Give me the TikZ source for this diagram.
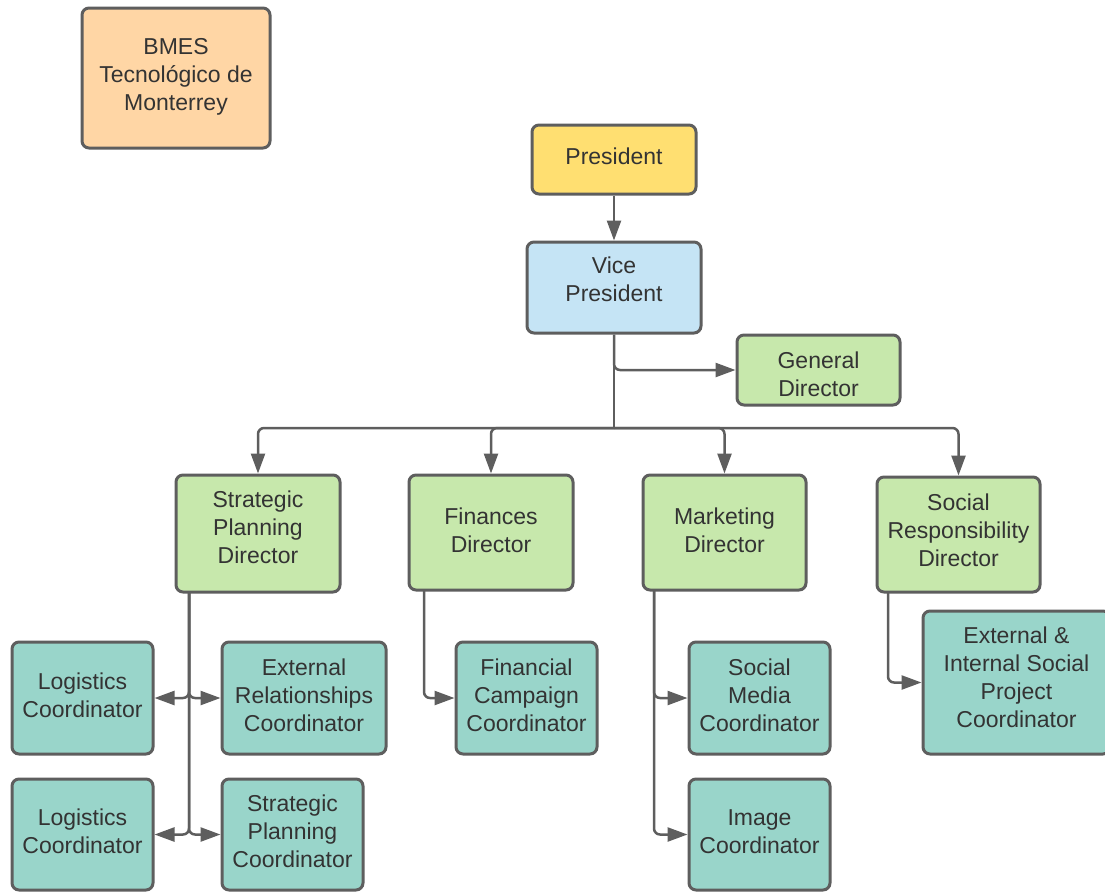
\documentclass[tikz,border=0pt]{standalone}
\usepackage{fontspec}
\setmainfont{Liberation Sans}
\usetikzlibrary{arrows.meta}
\definecolor{peach}{HTML}{FFD6A5}
\definecolor{yel}{HTML}{FFDF71}
\definecolor{blu}{HTML}{C5E4F5}
\definecolor{grn}{HTML}{C7E8AC}
\definecolor{tea}{HTML}{99D5CA}
\definecolor{edge}{HTML}{5E5E5E}
\definecolor{txt}{HTML}{333333}
\newcommand{\bxt}[2][-6pt]{\raisebox{#1}[0pt][0pt]{\begin{tabular}{@{}c@{}}#2\end{tabular}}}
\tikzset{
  box/.style={draw=edge, line width=3pt, rounded corners=7pt, align=center, text=txt,
    font=\fontsize{23}{28}\selectfont, inner sep=0pt},
  conn/.style={draw=edge, line width=2.5pt, rounded corners=6pt},
  arr/.style={conn, -{Triangle[length=20pt,width=14pt]}}
}
\begin{document}
\begin{tikzpicture}[x=1pt,y=-1pt]
\useasboundingbox (0,0) rectangle (1105,892);
\node[box, fill=peach, minimum width=188pt, minimum height=140pt] (bmes) at (176,78) {\bxt[-5pt]{BMES\\Tecnológico de\\Monterrey}};
\node[box, fill=yel, minimum width=164pt, minimum height=69pt] (pres) at (614,159.5) {\bxt{President}};
\node[box, fill=blu, minimum width=174pt, minimum height=91pt] (vp) at (614,287.5) {\bxt[-1pt]{Vice\\President}};
\node[box, fill=grn, minimum width=163pt, minimum height=70pt] (gd) at (818.5,370) {\bxt[-13pt]{General\\Director}};
\node[box, fill=grn, minimum width=164pt, minimum height=117pt] (spd) at (258,533.5) {\bxt[-3pt]{Strategic\\Planning\\Director}};
\node[box, fill=grn, minimum width=164pt, minimum height=115pt] (fd) at (491,532.5) {\bxt[-7pt]{Finances\\Director}};
\node[box, fill=grn, minimum width=163pt, minimum height=115pt] (md) at (724.5,532.5) {\bxt[-7pt]{Marketing\\Director}};
\node[box, fill=grn, minimum width=163pt, minimum height=115pt] (srd) at (958.5,534.5) {\bxt[-5pt]{Social\\Responsibility\\Director}};
\node[box, fill=tea, minimum width=141pt, minimum height=112pt] (log1) at (82.5,698) {\bxt{Logistics\\Coordinator}};
\node[box, fill=tea, minimum width=164pt, minimum height=112pt] (erc) at (304,698) {\bxt{External\\Relationships\\Coordinator}};
\node[box, fill=tea, minimum width=141pt, minimum height=111pt] (log2) at (82.5,834.5) {\bxt{Logistics\\Coordinator}};
\node[box, fill=tea, minimum width=141pt, minimum height=111pt] (spc) at (292.5,834.5) {\bxt{Strategic\\Planning\\Coordinator}};
\node[box, fill=tea, minimum width=141pt, minimum height=112pt] (fcc) at (526.5,698) {\bxt{Financial\\Campaign\\Coordinator}};
\node[box, fill=tea, minimum width=141pt, minimum height=112pt] (smc) at (759.5,698) {\bxt{Social\\Media\\Coordinator}};
\node[box, fill=tea, minimum width=141pt, minimum height=111pt] (ic) at (759.5,834.5) {\bxt{Image\\Coordinator}};
\node[box, fill=tea, minimum width=187pt, minimum height=143pt] (eis) at (1016.5,682.5) {\bxt[-4pt]{External \&\\Internal Social\\Project\\Coordinator}};
% connectors
\draw[arr] (pres) -- (vp);
\draw[arr] (vp.south) |- (gd.west);
\coordinate (bus) at (614,428);
\draw[conn] (vp.south) -- (bus);
\draw[arr] (bus) -| (spd.north);
\draw[arr] (bus) -| (fd.north);
\draw[arr] (bus) -| (md.north);
\draw[arr] (bus) -| (srd.north);
\coordinate (s1) at (189,592);
\draw[arr] (s1) |- (log1.east);
\draw[arr] (s1) |- (erc.west);
\draw[arr] (s1) |- (log2.east);
\draw[arr] (s1) |- (spc.west);
\coordinate (f1) at (424,590);
\draw[arr] (f1) |- (fcc.west);
\coordinate (m1) at (654,590);
\draw[arr] (m1) |- (smc.west);
\draw[arr] (m1) |- (ic.west);
\coordinate (r1) at (888,592);
\draw[arr] (r1) |- (eis.west);
\end{tikzpicture}
\end{document}
